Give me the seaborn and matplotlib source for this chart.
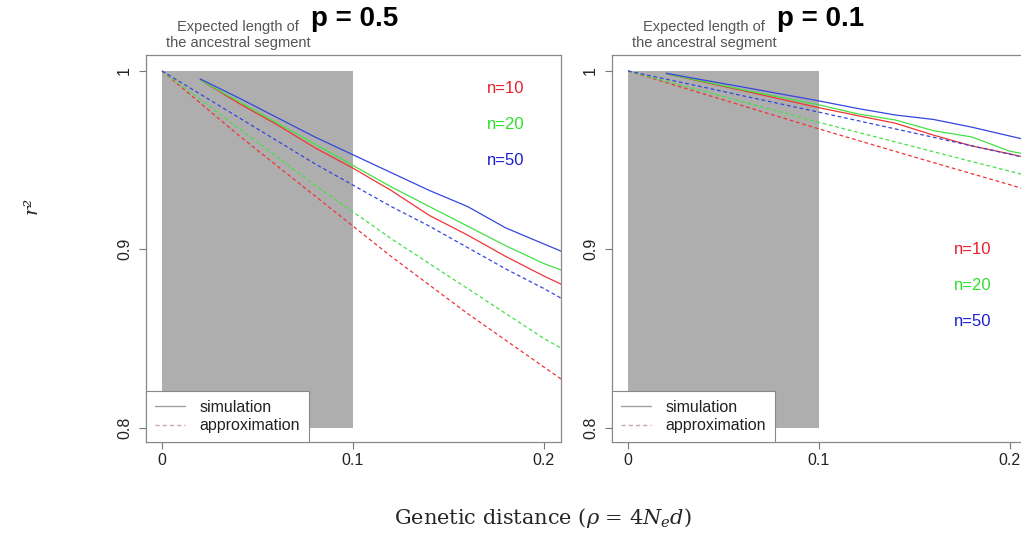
import numpy as np
import pandas as pd
import seaborn as sns
import matplotlib.pyplot as plt
from matplotlib.lines import Line2D

# genetic distance grid
x_sim = [0.02, 0.04, 0.06, 0.08, 0.10, 0.12, 0.14, 0.16, 0.18, 0.20, 0.21]
x_apx = [0.0, 0.02, 0.04, 0.06, 0.08, 0.10, 0.12, 0.14, 0.16, 0.18, 0.20, 0.21]

# p = 0.5
sim_05 = {
    'n=10': [0.995, 0.982, 0.970, 0.957, 0.9455, 0.933, 0.919, 0.908, 0.896, 0.885, 0.880],
    'n=20': [0.995, 0.983, 0.971, 0.959, 0.947, 0.935, 0.924, 0.913, 0.902, 0.892, 0.888],
    'n=50': [0.9955, 0.985, 0.974, 0.963, 0.953, 0.943, 0.933, 0.924, 0.912, 0.903, 0.8985],
}
apx_05 = {
    'n=10': [1.0, 0.982, 0.964, 0.947, 0.930, 0.913, 0.896, 0.880, 0.864, 0.849, 0.834, 0.8265],
    'n=20': [1.0, 0.984, 0.968, 0.952, 0.936, 0.921, 0.906, 0.892, 0.878, 0.864, 0.850, 0.844],
    'n=50': [1.0, 0.987, 0.974, 0.961, 0.948, 0.936, 0.924, 0.913, 0.901, 0.889, 0.878, 0.872],
}

# p = 0.1
sim_01 = {
    'n=10': [0.9985, 0.9937, 0.989, 0.9842, 0.9794, 0.975, 0.9707, 0.964, 0.958, 0.9535, 0.951],
    'n=20': [0.9985, 0.994, 0.9895, 0.9852, 0.981, 0.976, 0.9725, 0.9665, 0.963, 0.955, 0.953],
    'n=50': [0.9987, 0.9948, 0.991, 0.9871, 0.9832, 0.979, 0.9753, 0.9728, 0.9685, 0.9635, 0.961],
}
apx_01 = {
    'n=10': [1.0, 0.9935, 0.987, 0.9805, 0.974, 0.9675, 0.9612, 0.9549, 0.9486, 0.9424, 0.9362, 0.933],
    'n=20': [1.0, 0.9942, 0.9885, 0.9827, 0.977, 0.9712, 0.9657, 0.9602, 0.9547, 0.9492, 0.9438, 0.941],
    'n=50': [1.0, 0.9954, 0.9908, 0.9861, 0.9815, 0.9769, 0.9722, 0.9675, 0.9628, 0.958, 0.9533, 0.951],
}

segment_x = [0.0, 0.1]
segment_y = [0.8, 1.0]
panel_titles = ['p = 0.5', 'p = 0.1']
n_labels = ['n=10', 'n=20', 'n=50']

line_colors = {'n=10': '#F03535', 'n=20': '#45E045', 'n=50': '#3545E0'}
text_colors = {'n=10': '#E8202A', 'n=20': '#2EE02E', 'n=50': '#1E1ED0'}


def make_df(sim, apx):
    rows = []
    for n in n_labels:
        for x, y in zip(x_sim, sim[n]):
            rows.append((x, y, n, 'simulation'))
        for x, y in zip(x_apx, apx[n]):
            rows.append((x, y, n, 'approximation'))
    return pd.DataFrame(rows, columns=['rho', 'r2', 'n', 'kind'])


sns.set_theme(style='white')
plt.rcParams['font.family'] = ['Liberation Sans', 'DejaVu Sans']
plt.rcParams['mathtext.fontset'] = 'dejavuserif'

fig = plt.figure(figsize=(10.21, 5.35), dpi=100)
positions = [[0.143, 0.174, 0.4065, 0.7234], [0.5994, 0.174, 0.4065, 0.7234]]
label_pos = [(0.180, [0.990, 0.970, 0.9496]), (0.1807, [0.8997, 0.8796, 0.8594])]

for i, (sim, apx) in enumerate([(sim_05, apx_05), (sim_01, apx_01)]):
    ax = fig.add_axes(positions[i])
    ax.fill_between(segment_x, segment_y[0], segment_y[1], color='#AEAEAE', lw=0, zorder=0)
    df = make_df(sim, apx)
    sns.lineplot(data=df, x='rho', y='r2', hue='n', style='kind', palette=line_colors,
                 dashes={'simulation': '', 'approximation': (3, 2.2)},
                 style_order=['simulation', 'approximation'],
                 linewidth=0.9, legend=False, ax=ax, zorder=2)
    ax.set_xlim(-0.0084, 0.209)
    ax.set_ylim(0.792, 1.009)
    ax.set_xticks([0, 0.1, 0.2])
    ax.set_xticklabels(['0', '0.1', '0.2'])
    ax.set_yticks([0.8, 0.9, 1.0])
    ax.set_yticklabels(['0.8', '0.9', '1'], rotation=90, va='center')
    ax.tick_params(axis='both', which='both', direction='out', length=5, width=0.8,
                   color='#777777', labelsize=11.5, labelcolor='#222222',
                   left=True, bottom=True)
    ax.tick_params(axis='y', pad=5)
    ax.tick_params(axis='x', pad=3)
    ax.set_xlabel('')
    ax.set_ylabel('')
    for sp in ax.spines.values():
        sp.set_color('#888888')
        sp.set_linewidth(0.9)

    lx, lys = label_pos[i]
    for n, ly in zip(n_labels, lys):
        ax.text(lx, ly, n, color=text_colors[n], fontsize=12, ha='center', va='center')

    ax.text(0.040, 1.052, 'Expected length of\nthe ancestral segment',
            transform=ax.get_xaxis_transform(), ha='center', va='center',
            fontsize=10.5, color='#555555', linespacing=1.2)
    ax.text(0.0778, 1.093, panel_titles[i], transform=ax.get_xaxis_transform(),
            ha='left', va='center', fontsize=20, fontweight='bold', color='black')

    handles = [Line2D([], [], color='#A0A0A0', lw=1.0),
               Line2D([], [], color='#C8A8A8', lw=1.0, dashes=(3, 2.2))]
    leg = ax.legend(handles, ['simulation', 'approximation'], loc='lower left',
                    bbox_to_anchor=(0, 0), borderaxespad=0, fontsize=11.5,
                    handlelength=1.9, handletextpad=0.9, labelspacing=0.2,
                    borderpad=0.55, fancybox=False, framealpha=1)
    leg.get_frame().set_edgecolor('#888888')
    leg.get_frame().set_linewidth(0.8)
    for t in leg.get_texts():
        t.set_color('#222222')

fig.text(0.031, 0.617, 'r²', rotation=90, ha='center', va='center', fontsize=14,
         family='DejaVu Serif', style='italic')
fig.text(0.532, 0.032, r'Genetic distance ($\rho$ = $4N_ed$)', ha='center', va='center',
         fontsize=15, family='DejaVu Serif')

fig.savefig('out.png', dpi=100)
